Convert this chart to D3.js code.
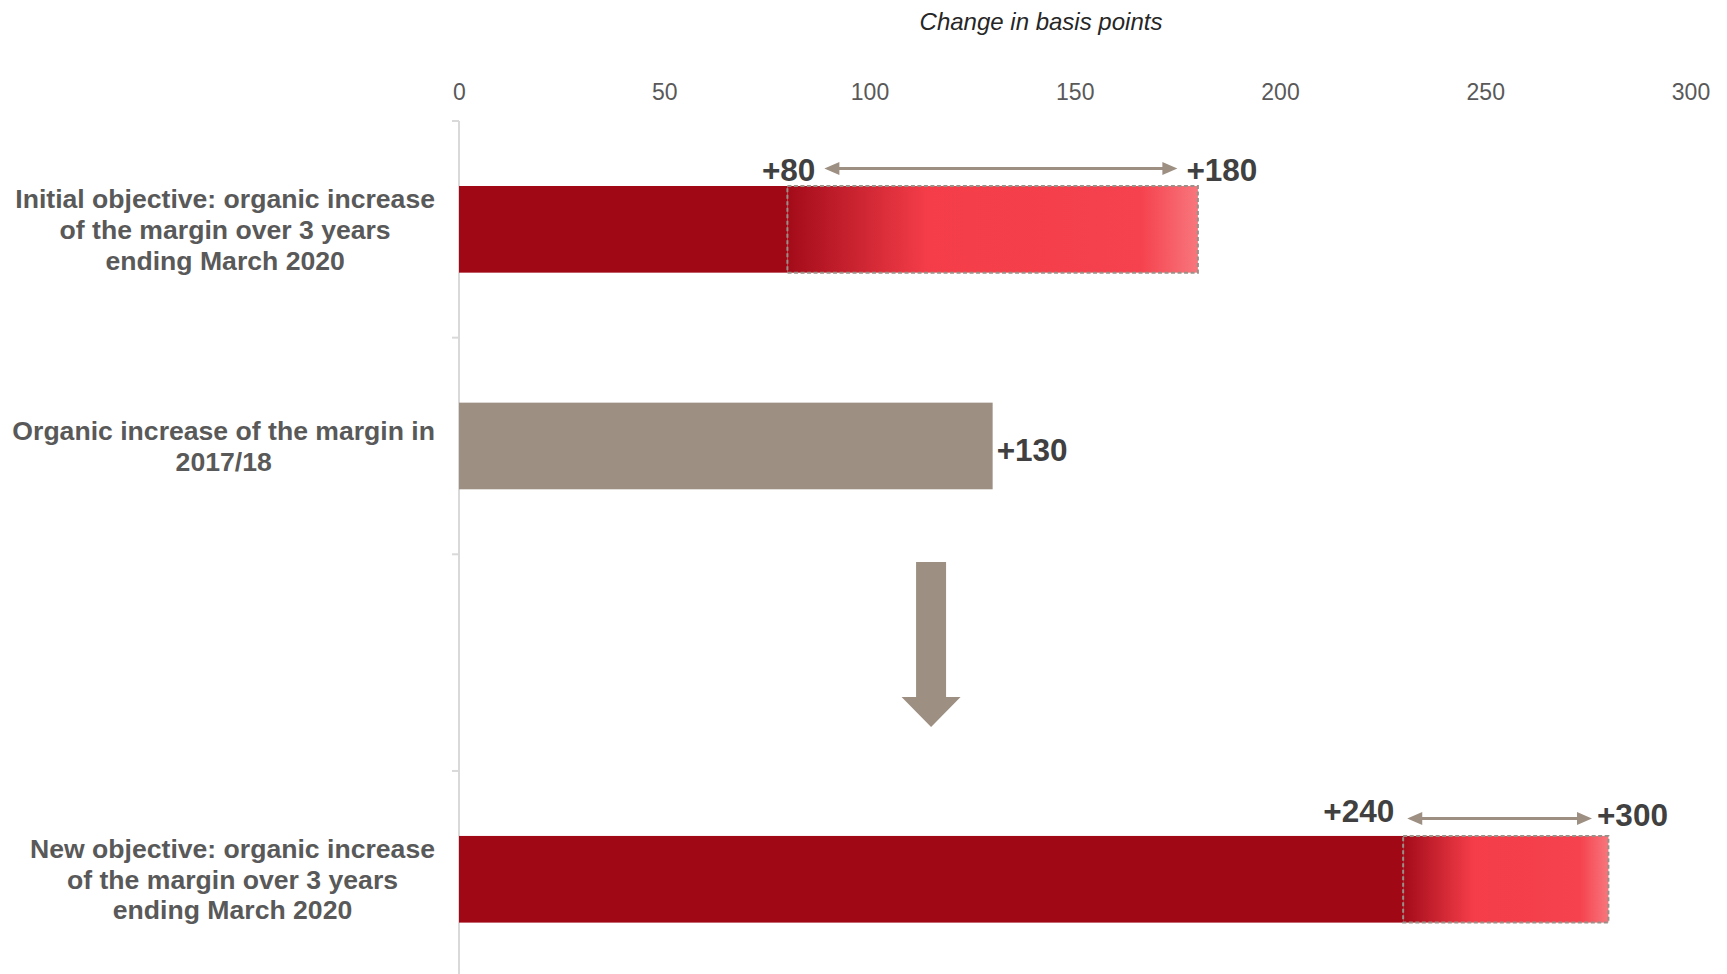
<!DOCTYPE html>
<html>
<head>
<meta charset="utf-8">
<script src="https://cdn.jsdelivr.net/npm/d3@7"></script>
<style>
  body { margin: 0; background: #fff; }
  svg { display: block; font-family: "Liberation Sans", Arial, sans-serif; }
</style>
</head>
<body>
<svg id="chart" width="1727" height="974"></svg>
<script>
// rows of the chart (the third one is empty, it holds the down arrow)
const rowKeys = ["initial", "actual", "gap", "new"];
const rowLabels = [
  ["Initial objective: organic increase", "of the margin over 3 years", "ending March 2020"],
  ["Organic increase of the margin in", "2017/18"],
  [],
  ["New objective: organic increase", "of the margin over 3 years", "ending March 2020"]
];
// solid part of each bar
const solidValues = [80, 130, null, 230];
// target ranges (dashed, gradient boxes) for the two objective rows
const rangeRows = ["initial", "new"];
const rangeFrom = [80, 230];
const rangeTo = [180, 280];
const rangeLowLabels = ["+80", "+240"];
const rangeHighLabels = ["+180", "+300"];
const arrowFrom = [89, 231];
const arrowTo = [175, 276];
const actualLabel = "+130";
const downArrowAt = 115;
const tickValues = [0, 50, 100, 150, 200, 250, 300];
const axisTitle = "Change in basis points";

const darkRed = "#a00816";
const taupe = "#9d8f82";
const rowColors = [darkRed, taupe, null, darkRed];

const svg = d3.select("#chart");

const x = d3.scaleLinear().domain([0, 300]).range([459, 1690.5]);
const y = d3.scaleBand()
  .domain(rowKeys)
  .range([121, 987.6])
  .paddingInner(0.6)
  .paddingOuter(0.3);
const bw = y.bandwidth();
const halfGap = y.step() * y.paddingInner() / 2;

// gradient for target ranges
const grad = svg.append("defs").append("linearGradient").attr("id", "rangeGrad");
grad.append("stop").attr("offset", "0%").attr("stop-color", "#a30b19");
grad.append("stop").attr("offset", "34%").attr("stop-color", "#f43d49");
grad.append("stop").attr("offset", "86%").attr("stop-color", "#f5424e");
grad.append("stop").attr("offset", "100%").attr("stop-color", "#f8767c");

// title
svg.append("text")
  .attr("x", 1041)
  .attr("y", 21)
  .attr("dy", "0.36em")
  .attr("text-anchor", "middle")
  .style("font-style", "italic")
  .style("font-size", "24px")
  .style("fill", "#262626")
  .text(axisTitle);

// top axis (labels only)
svg.append("g")
  .attr("transform", "translate(0,100)")
  .call(d3.axisTop(x).tickValues(tickValues).tickSize(0).tickPadding(0))
  .call(g => g.select(".domain").remove())
  .attr("font-size", 23)
  .attr("font-family", null)
  .selectAll("text")
  .style("fill", "#595959");

// vertical axis with ticks between rows
const axisX = x(0);
svg.append("line")
  .attr("x1", axisX).attr("x2", axisX)
  .attr("y1", y(rowKeys[0]) - halfGap).attr("y2", 974)
  .attr("stroke", "#d9d9d9")
  .attr("stroke-width", 2);
svg.selectAll(".ytick")
  .data(rowKeys)
  .enter()
  .append("line")
  .attr("class", "ytick")
  .attr("x1", axisX - 7).attr("x2", axisX)
  .attr("y1", d => y(d) - halfGap).attr("y2", d => y(d) - halfGap)
  .attr("stroke", "#d9d9d9")
  .attr("stroke-width", 2);

// solid bars
const solid = rowKeys.map((k, i) => ({ key: k, value: solidValues[i], color: rowColors[i] }))
  .filter(d => d.value != null);
svg.selectAll(".bar")
  .data(solid)
  .enter()
  .append("rect")
  .attr("class", "bar")
  .attr("x", x(0))
  .attr("y", d => y(d.key))
  .attr("width", d => x(d.value) - x(0))
  .attr("height", bw)
  .attr("fill", d => d.color);

// target range boxes
const ranges = rangeRows.map((k, i) => ({
  key: k, from: rangeFrom[i], to: rangeTo[i],
  low: rangeLowLabels[i], high: rangeHighLabels[i],
  a0: arrowFrom[i], a1: arrowTo[i]
}));
svg.selectAll(".range")
  .data(ranges)
  .enter()
  .append("rect")
  .attr("class", "range")
  .attr("x", d => x(d.from))
  .attr("y", d => y(d.key))
  .attr("width", d => x(d.to) - x(d.from))
  .attr("height", bw)
  .attr("fill", "url(#rangeGrad)")
  .attr("stroke", "#9a9088")
  .attr("stroke-width", 2)
  .attr("stroke-dasharray", "4 2.5");

// double arrows above range boxes
const headLen = 15, headHalf = 6.5;
ranges.forEach((d, i) => {
  const ay = y(d.key) - 17.5;
  const x0 = x(d.a0), x1 = x(d.a1);
  const g = svg.append("g");
  g.append("line")
    .attr("x1", x0 + headLen - 2).attr("x2", x1 - headLen + 2)
    .attr("y1", ay).attr("y2", ay)
    .attr("stroke", taupe)
    .attr("stroke-width", 3);
  g.append("path")
    .attr("d", `M${x0},${ay} L${x0 + headLen},${ay - headHalf} L${x0 + headLen},${ay + headHalf} Z`)
    .attr("fill", taupe);
  g.append("path")
    .attr("d", `M${x1},${ay} L${x1 - headLen},${ay - headHalf} L${x1 - headLen},${ay + headHalf} Z`)
    .attr("fill", taupe);

  const lowGap = i === 0 ? 9 : 13;
  const highGap = i === 0 ? 9 : 5;
  const lowDy = i === 0 ? 1 : -7.5;
  const highDy = i === 0 ? 1 : -4;
  g.append("text")
    .attr("x", x0 - lowGap)
    .attr("y", ay + lowDy)
    .attr("dy", "0.36em")
    .attr("text-anchor", "end")
    .style("font-weight", "bold")
    .style("font-size", "31.5px")
    .style("fill", "#404040")
    .text(d.low);
  g.append("text")
    .attr("x", x1 + highGap)
    .attr("y", ay + highDy)
    .attr("dy", "0.36em")
    .attr("text-anchor", "start")
    .style("font-weight", "bold")
    .style("font-size", "31.5px")
    .style("fill", "#404040")
    .text(d.high);
});

// value label for the actual bar
svg.append("text")
  .attr("x", x(solidValues[1]) + 4)
  .attr("y", y(rowKeys[1]) + bw / 2 + 3.5)
  .attr("dy", "0.36em")
  .style("font-weight", "bold")
  .style("font-size", "31.5px")
  .style("fill", "#404040")
  .text(actualLabel);

// down arrow in the empty row
const s0 = y(rowKeys[2]) - halfGap;
const st = y.step();
const ax = x(downArrowAt);
const arrTop = s0 + 0.036 * st, arrHead = s0 + 0.659 * st, arrTip = s0 + 0.797 * st;
const shaft = 15, head = 29.5;
svg.append("path")
  .attr("d", `M${ax - shaft},${arrTop} L${ax + shaft},${arrTop} L${ax + shaft},${arrHead} L${ax + head},${arrHead}
              L${ax},${arrTip} L${ax - head},${arrHead} L${ax - shaft},${arrHead} Z`)
  .attr("fill", taupe);

// row labels, each block right-aligned, lines centred inside it
const labelRight = 435;
const lineH = 30.6;
rowKeys.forEach((k, i) => {
  const lines = rowLabels[i];
  if (!lines.length) return;
  const cy = y(k) + bw / 2;
  const t = svg.append("text")
    .attr("text-anchor", "middle")
    .style("font-weight", "bold")
    .style("font-size", "26.6px")
    .style("fill", "#595959");
  lines.forEach((line, j) => {
    t.append("tspan")
      .attr("y", cy + (j - (lines.length - 1) / 2) * lineH)
      .attr("dy", "0.36em")
      .text(line);
  });
  let maxW = 0;
  t.selectAll("tspan").each(function () {
    maxW = Math.max(maxW, this.getComputedTextLength());
  });
  t.selectAll("tspan").attr("x", labelRight - maxW / 2);
});
</script>
</body>
</html>
